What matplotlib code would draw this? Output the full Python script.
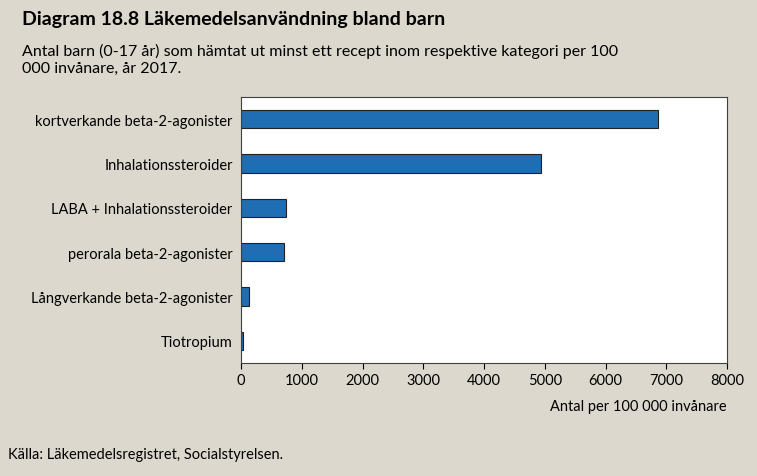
import matplotlib
matplotlib.use("Agg")
import matplotlib.pyplot as plt

categories = ["kortverkande beta-2-agonister", "Inhalationssteroider", "LABA + Inhalationssteroider",
              "perorala beta-2-agonister", "Långverkande beta-2-agonister", "Tiotropium"]
values = [6860, 4940, 740, 710, 130, 30]
xticks = [0, 1000, 2000, 3000, 4000, 5000, 6000, 7000, 8000]

plt.rcParams["font.family"] = "Lato"
bg = "#dcd8cd"
fig = plt.figure(figsize=(7.57, 4.77), dpi=100, facecolor=bg)
ax = fig.add_axes([241/757, 1-364/477, (727-241)/757, (364-98)/477])
ax.set_facecolor("white")
y = list(range(len(categories)))
ax.barh(y, values, height=0.42, color="#1f6db3", edgecolor="#222222", linewidth=0.8)
ax.set_yticks(y)
ax.set_yticklabels(categories, fontsize=10.5)
ax.invert_yaxis()
ax.set_ylim(5.5, -0.5)
ax.set_xlim(0, 8000)
ax.set_xticks(xticks)
ax.set_xticklabels([str(v) for v in xticks], fontsize=10.5)
ax.tick_params(axis="y", length=0, pad=6)
ax.tick_params(axis="x", length=4, direction="out")
for s in ax.spines.values():
    s.set_color("#404040"); s.set_linewidth(0.8)
ax.set_xlabel("Antal per 100 000 invånare", fontsize=10.5, loc="right", labelpad=8)

fig.text(22/757, 1-20/477, "Diagram 18.8 Läkemedelsanvändning bland barn", fontsize=14, fontweight="bold", va="center")
fig.text(22/757, 1-60/477, "Antal barn (0-17 år) som hämtat ut minst ett recept inom respektive kategori per 100\n000 invånare, år 2017.",
         fontsize=11.5, va="center", linespacing=1.2)
fig.text(8/757, 1-455/477, "Källa: Läkemedelsregistret, Socialstyrelsen.", fontsize=10.5, va="center")
fig.savefig("out.png", dpi=100, facecolor=bg)
